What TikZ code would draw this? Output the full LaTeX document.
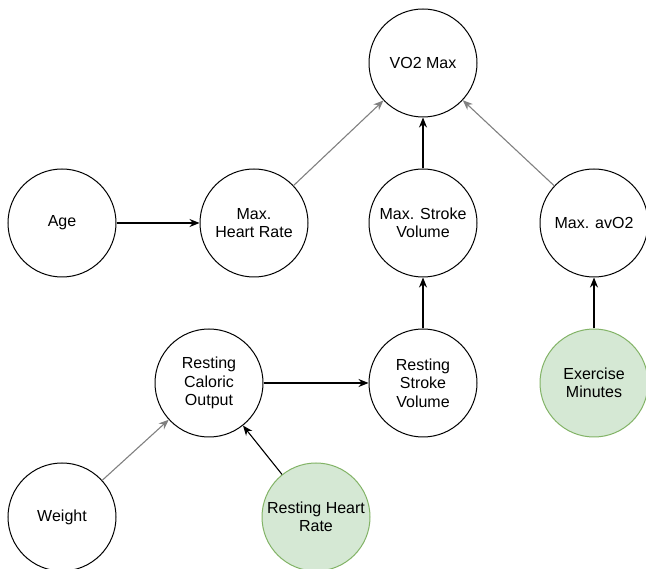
\documentclass[tikz,border=0pt]{standalone}
\usepackage{fontspec}
\setmainfont{Liberation Sans}
\usetikzlibrary{arrows.meta}
\definecolor{gfill}{HTML}{D5E8D4}
\definecolor{gdraw}{HTML}{82B366}
\definecolor{grayline}{HTML}{808080}
\begin{document}
\begin{tikzpicture}[x=1pt,y=-1pt,
  nd/.style={circle,draw=black,line width=1pt,minimum size=108pt,inner sep=0pt,align=center,
    font=\fontsize{16}{18.5}\selectfont,fill=white},
  gnd/.style={nd,draw=gdraw,fill=gfill},
  arr/.style={-{Stealth[length=10pt,width=8pt]},line width=1.1pt,draw=black},
  garr/.style={arr,draw=grayline}]
\useasboundingbox (0,0) rectangle (646,569);
\node[nd] (vo2) at (423,63) {VO2 Max};
\node[nd] (age) at (62,223) {Age};
\node[nd] (mhr) at (254,223) {Max.\\Heart Rate};
\node[nd] (msv) at (423,223) {Max. Stroke\\Volume};
\node[nd] (avo) at (594,223) {Max. avO2};
\node[nd] (rco) at (209,383) {Resting\\Caloric\\Output};
\node[nd] (rsv) at (423,383) {Resting\\Stroke\\Volume};
\node[gnd] (exm) at (594,383) {Exercise\\Minutes};
\node[nd] (wgt) at (62,517) {Weight};
\node[gnd] (rhr) at (316,517) {Resting Heart\\Rate};
\draw[arr] (age) -- (mhr);
\draw[garr] (mhr) -- (vo2);
\draw[arr] (msv) -- (vo2);
\draw[garr] (avo) -- (vo2);
\draw[arr] (rsv) -- (msv);
\draw[arr] (exm) -- (avo);
\draw[arr] (rco) -- (rsv);
\draw[garr] (wgt) -- (rco);
\draw[arr] (rhr) -- (rco);
\end{tikzpicture}
\end{document}
